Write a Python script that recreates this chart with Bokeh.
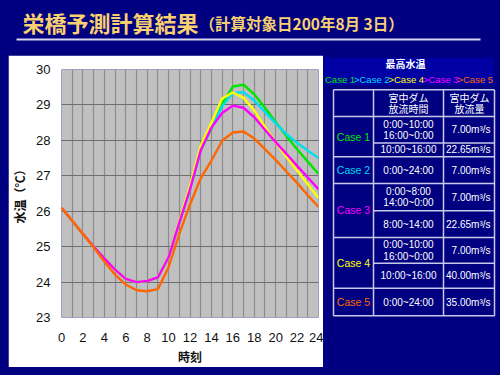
from bokeh.plotting import figure
from bokeh.layouts import column, row
from bokeh.models import Range1d, FixedTicker
from bokeh.core.properties import value
from bokeh.embed import file_html
from bokeh.resources import INLINE

# ---------------- data ----------------
hours = list(range(25))
x_ticks = [0, 2, 4, 6, 8, 10, 12, 14, 16, 18, 20, 22, 24]
y_ticks = [23, 24, 25, 26, 27, 28, 29, 30]

case1 = [26.1, 25.73, 25.36, 25.0, 24.67, 24.35, 24.09, 24.0, 24.03, 24.13, 24.7, 25.68,
         26.62, 27.72, 28.33, 29.03, 29.52, 29.57, 29.3, 28.92, 28.52, 28.12, 27.75, 27.4, 27.05]
case2 = [26.1, 25.73, 25.36, 25.0, 24.67, 24.35, 24.09, 24.0, 24.03, 24.13, 24.7, 25.68,
         26.62, 27.72, 28.36, 28.96, 29.33, 29.36, 29.12, 28.8, 28.48, 28.18, 27.93, 27.71, 27.5]
case3 = [26.1, 25.73, 25.36, 25.0, 24.67, 24.35, 24.09, 24.0, 24.03, 24.13, 24.7, 25.68,
         26.62, 27.72, 28.36, 28.77, 28.98, 28.92, 28.65, 28.3, 27.95, 27.62, 27.28, 26.95, 26.62]
case4 = [26.1, 25.73, 25.36, 25.0, 24.67, 24.35, 24.09, 24.0, 24.03, 24.13, 24.7, 25.72,
         26.72, 27.85, 28.5, 29.18, 29.35, 29.2, 28.84, 28.38, 27.94, 27.54, 27.15, 26.76, 26.37]
case5 = [26.1, 25.73, 25.36, 24.98, 24.58, 24.21, 23.93, 23.77, 23.74, 23.8, 24.42, 25.36,
         26.19, 26.93, 27.43, 27.99, 28.22, 28.25, 28.05, 27.75, 27.45, 27.12, 26.8, 26.45, 26.12]

case_names = ["Case 1", "Case 2", "Case 3", "Case 4", "Case 5"]
case_colors = ["#00E600", "#00DDF0", "#FF00FF", "#FFFF00", "#FF6600"]
rank_order = ["Case 1", "Case 2", "Case 4", "Case 3", "Case 5"]

title_main = "栄橋予測計算結果"
title_sub = "（計算対象日200年8月 3日）"
legend_title = "最高水温"
head_time = ["宮中ダム", "放流時間"]
head_flow = ["宮中ダム", "放流量"]
# table sub-rows: case index, time text lines, flow text
row_case = [0, 0, 1, 2, 2, 3, 3, 4]
row_times = [["0:00~10:00", "16:00~0:00"], ["10:00~16:00"], ["0:00~24:00"],
             ["0:00~8:00", "14:00~0:00"], ["8:00~14:00"],
             ["0:00~10:00", "16:00~0:00"], ["10:00~16:00"], ["0:00~24:00"]]
row_flows = ["7.00m³/s", "22.65m³/s", "7.00m³/s", "7.00m³/s", "22.65m³/s",
             "7.00m³/s", "40.00m³/s", "35.00m³/s"]

NAVY = "#000080"
JP = value("Noto Sans CJK JP")
LAT = value("Liberation Sans")

# ---------------- header ----------------
header = figure(width=500, height=43, x_range=Range1d(0, 500), y_range=Range1d(43, 0),
                output_backend="svg", toolbar_location=None, min_border=0,
                x_axis_location=None, y_axis_location=None,
                background_fill_color=NAVY, border_fill_color=NAVY, outline_line_color=None)
header.grid.visible = False
header.text(x=[22], y=[21], text=[title_main], text_font=JP, text_font_size="22px",
            text_font_style="bold", text_color="#F8D070", text_baseline="middle")
header.text(x=[199], y=[22], text=[title_sub], text_font=JP, text_font_size="15.5px",
            text_font_style="bold", text_color="#F8D070", text_baseline="middle")
header.segment(x0=[16], y0=[39], x1=[480], y1=[39], line_color="#D8D8F0", line_width=2)

# ---------------- chart ----------------
p = figure(width=315, height=312, x_range=Range1d(0, 24), y_range=Range1d(23, 30),
           output_backend="svg", toolbar_location=None,
           background_fill_color="#C0C0C0", border_fill_color="white", outline_line_color=None,
           min_border_left=44, min_border_right=5, min_border_top=14, min_border_bottom=45,
           margin=(12, 0, 8, 8))
p.xaxis.ticker = FixedTicker(ticks=x_ticks)
p.yaxis.ticker = FixedTicker(ticks=y_ticks)
p.xgrid.ticker = FixedTicker(ticks=hours)
p.xgrid.grid_line_color = "#8C8C8C"
p.ygrid.grid_line_color = "#6E6E6E"
p.xgrid.grid_line_width = 1.2
p.ygrid.grid_line_width = 1.2
for ax in (p.xaxis, p.yaxis):
    ax.axis_line_color = None
    ax.major_tick_line_color = None
    ax.minor_tick_line_color = None
    ax.major_label_text_font = "Liberation Sans"
    ax.major_label_text_font_size = "13px"
    ax.major_label_text_color = "#111111"
    ax.axis_label_text_font = "Noto Sans CJK JP"
    ax.axis_label_text_font_style = "bold"
    ax.axis_label_text_font_size = "12px"
    ax.axis_label_text_color = "#111111"
p.xaxis.axis_label = "時刻"
p.yaxis.axis_label = "水温（℃）"
p.xaxis.major_label_standoff = 9
p.yaxis.major_label_standoff = 5
p.xaxis.axis_label_standoff = 3
p.yaxis.axis_label_standoff = 5

series = [case1, case2, case4, case3, case5]
colors = [case_colors[0], case_colors[1], case_colors[3], case_colors[2], case_colors[4]]
for vals, c in zip(series, colors):
    p.line(hours, vals, line_color=c, line_width=2.4)

# ---------------- right panel (ranking + table) ----------------
r = figure(width=177, height=332, x_range=Range1d(0, 177), y_range=Range1d(332, 0),
           output_backend="svg", toolbar_location=None, min_border=0,
           x_axis_location=None, y_axis_location=None,
           background_fill_color=NAVY, border_fill_color=NAVY, outline_line_color=None)
r.grid.visible = False

# ranking box
r.quad(left=[0], right=[170], top=[0], bottom=[34], fill_color="#0000A4", line_color=None)
r.text(x=[82], y=[8], text=[legend_title], text_font=JP, text_font_size="10px",
       text_font_style="bold", text_color="white", text_align="center", text_baseline="middle")
seg_x = [1.5, 36, 70.5, 105, 139.5]
for i, name in enumerate(rank_order):
    col = case_colors[case_names.index(name)]
    if i > 0:
        r.text(x=[seg_x[i] - 5.5], y=[27], text=[">"], text_font=LAT, text_font_size="9.5px",
               text_color=col, text_baseline="middle")
    r.text(x=[seg_x[i]], y=[27], text=[name], text_font=LAT, text_font_size="9.5px",
           text_color=col, text_baseline="middle")

# table grid
cx = [10, 50, 120, 171]
ry = [40, 73, 106, 123, 156, 190, 223, 255, 286, 320]
full_rows = {40, 73, 123, 156, 223, 286, 320}
x0s, y0s, x1s, y1s = [], [], [], []
for x in cx:
    x0s.append(x); x1s.append(x); y0s.append(ry[0]); y1s.append(ry[-1])
for y in ry:
    x0s.append(cx[0] if y in full_rows else cx[1]); x1s.append(cx[-1]); y0s.append(y); y1s.append(y)
r.segment(x0=x0s, y0=y0s, x1=x1s, y1=y1s, line_color="#C8C8E8", line_width=1.5)

# header texts
for i, t in enumerate(head_time):
    r.text(x=[85], y=[49 + 14 * i], text=[t], text_font=JP, text_font_size="10px",
           text_color="white", text_align="center", text_baseline="middle")
for i, t in enumerate(head_flow):
    r.text(x=[146], y=[49 + 14 * i], text=[t], text_font=JP, text_font_size="10px",
           text_color="white", text_align="center", text_baseline="middle")

# body rows
sub_bounds = list(zip(ry[1:-1], ry[2:]))
for k in range(len(row_case)):
    top, bot = sub_bounds[k]
    cy = (top + bot) / 2
    lines = row_times[k]
    n = len(lines)
    for j, t in enumerate(lines):
        r.text(x=[85], y=[cy + (j - (n - 1) / 2) * 14], text=[t], text_font=LAT,
               text_font_size="10px", text_color="white", text_align="center",
               text_baseline="middle")
    r.text(x=[167], y=[cy], text=[row_flows[k]], text_font=LAT, text_font_size="10px",
           text_color="white", text_align="right", text_baseline="middle")

# case labels (centred over their sub-rows)
for ci, name in enumerate(case_names):
    ks = [k for k in range(len(row_case)) if row_case[k] == ci]
    top = sub_bounds[ks[0]][0]
    bot = sub_bounds[ks[-1]][1]
    r.text(x=[30], y=[(top + bot) / 2], text=[name], text_font=LAT, text_font_size="10.5px",
           text_color=case_colors[ci], text_align="center", text_baseline="middle")

layout = column(header, row(p, r), styles={"background-color": NAVY})

open("out.html", "w").write(file_html(layout, INLINE))
